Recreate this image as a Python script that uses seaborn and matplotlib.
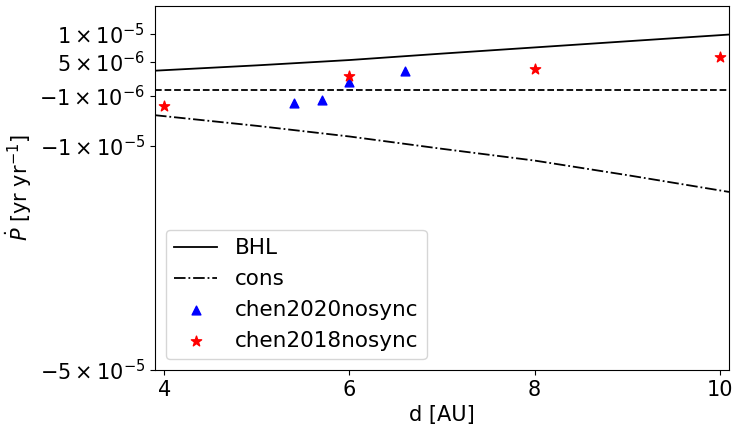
import numpy as np
import pandas as pd
import matplotlib
matplotlib.use("Agg")
import matplotlib.pyplot as plt
import seaborn as sns

# ---------------- data ----------------
d_model = [3.9, 5.0, 6.0, 7.0, 8.0, 9.0, 10.1]
bhl = [3.45e-6, 4.4e-6, 5.35e-6, 6.5e-6, 7.6e-6, 8.7e-6, 9.9e-6]
cons = [-4.5e-6, -6.4e-6, -8.3e-6, -10.5e-6, -12.6e-6, -15.2e-6, -18.2e-6]

d_2020 = [5.4, 5.7, 6.0, 6.6]
pdot_2020 = [-2.27e-6, -1.79e-6, 1.37e-6, 3.39e-6]

d_2018 = [4.0, 6.0, 8.0, 10.0]
pdot_2018 = [-2.86e-6, 2.5e-6, 3.8e-6, 5.95e-6]

y_ticks = [1e-5, 5e-6, -1e-6, -1e-5, -5e-5]
y_tick_labels = [r"$1\times10^{-5}$", r"$5\times10^{-6}$", r"$-1\times10^{-6}$",
                 r"$-1\times10^{-5}$", r"$-5\times10^{-5}$"]
x_ticks = [4, 6, 8, 10]

models = pd.DataFrame({"d": d_model, "bhl": bhl, "cons": cons})
obs20 = pd.DataFrame({"d": d_2020, "pdot": pdot_2020})
obs18 = pd.DataFrame({"d": d_2018, "pdot": pdot_2018})

# ---------------- plot ----------------
fig, ax = plt.subplots(figsize=(7.33, 4.25), dpi=100)
fig.subplots_adjust(left=155 / 733, right=729 / 733,
                    top=1 - 6 / 425, bottom=1 - 370 / 425)

sns.lineplot(data=models, x="d", y="bhl", color="black", lw=1.3,
             label="BHL", ax=ax)
sns.lineplot(data=models, x="d", y="cons", color="black", lw=1.3,
             linestyle="-.", label="cons", ax=ax)
ax.axhline(0, color="black", linestyle="--", lw=1.3)
sns.scatterplot(data=obs20, x="d", y="pdot", marker="^", color="blue",
                edgecolor="blue", s=40, linewidth=1, label="chen2020nosync",
                ax=ax, zorder=3)
sns.scatterplot(data=obs18, x="d", y="pdot", marker="*", color="red",
                edgecolor="red", s=60, linewidth=1, label="chen2018nosync",
                ax=ax, zorder=3)

ax.set_xlim(3.9, 10.1)
ax.set_ylim(-5e-5, 1.5e-5)
ax.set_xticks(x_ticks)
ax.set_yticks(y_ticks)
ax.set_yticklabels(y_tick_labels)
ax.tick_params(labelsize=15)
ax.set_xlabel("d [AU]", fontsize=15)
ax.set_ylabel(r"$\dot{P}$ [yr yr$^{-1}$]", fontsize=15)
ax.legend(loc="lower left", fontsize=15.5)

plt.savefig("out.png", dpi=100)
plt.close()
